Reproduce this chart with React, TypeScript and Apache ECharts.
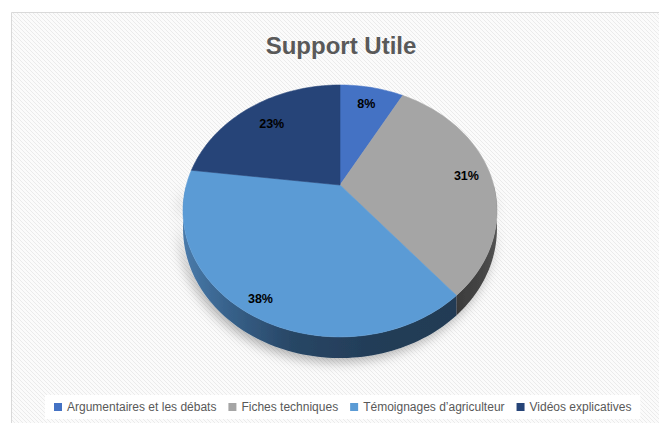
import React, { useEffect, useRef } from 'react';
import * as echarts from 'echarts';

const categories = ['Argumentaires et les débats', 'Fiches techniques', 'Témoignages d’agriculteur', 'Vidéos explicatives'];
const values = [8, 31, 38, 23];
const colors = ['#4472C4', '#A5A5A5', '#5B9BD5', '#264478'];
const sideStops = [
  [[0, '#2f5597'], [1, '#2a4c86']],
  [[0, '#3a3a3a'], [0.85, '#3a3a3a'], [0.95, '#454545'], [1, '#555555']],
  [[0, '#4a7bab'], [0.15, '#37618a'], [0.35, '#284665'], [0.6, '#233d58'], [1, '#213a52']],
  [[0, '#1c3358'], [1, '#1c3358']],
];
const labelRadius = [0.8, 0.84, 0.9, 0.75];
const chartTitle = 'Support Utile';

const W = 659;
const HGT = 423;
const CX = 340;
const CY = 185;
const RX = 153.6;
const RY = 120.6;
const K = 0.206;
const DEPTH = 16.8;

function proj(theta: number, r: number, h: number): number[] {
  const d = r * Math.sin(theta);
  const den = 1 - K * d;
  return [CX + (RX * r * Math.cos(theta)) / den, CY + (RY * d + h) / den];
}

const total = values.reduce((a, b) => a + b, 0);
const cum: number[] = [];
values.reduce((acc, v, i) => {
  cum[i] = acc;
  return acc + v;
}, 0);

function angles(idx: number, v: number) {
  const start = -Math.PI / 2 + (2 * Math.PI * cum[idx]) / total;
  const end = start + (2 * Math.PI * v) / total;
  return [start, end];
}

function makePattern(): string {
  try {
    const c = document.createElement('canvas');
    c.width = 4;
    c.height = 4;
    const ctx = c.getContext('2d');
    if (!ctx) return '';
    const img = ctx.createImageData(4, 4);
    for (let y = 0; y < 4; y++) {
      for (let x = 0; x < 4; x++) {
        const stripe = (((x - y) % 4) + 4) % 4 === 0;
        const v = stripe ? 235 : 251;
        const o = (y * 4 + x) * 4;
        img.data[o] = v;
        img.data[o + 1] = v;
        img.data[o + 2] = v;
        img.data[o + 3] = 255;
      }
    }
    ctx.putImageData(img, 0, 0);
    return c.toDataURL();
  } catch (e) {
    return '';
  }
}

export default function App() {
  const ref = useRef<HTMLDivElement>(null);
  useEffect(() => {
    if (!ref.current) return;
    const chart = echarts.init(ref.current, undefined, { renderer: 'svg' });
    const pat = makePattern();
    const bgFill: any = pat
      ? { image: pat, repeat: 'repeat', imageWidth: 4, imageHeight: 4 }
      : '#f6f6f6';

    const sideRender = (params: any, api: any) => {
      const idx = params.dataIndex;
      const v = api.value(0);
      const [s, e] = angles(idx, v);
      const a = Math.max(s, 0);
      const b = Math.min(e, Math.PI);
      if (b <= a) return { type: 'group', children: [] };
      const n = Math.max(4, Math.ceil(((b - a) / Math.PI) * 120));
      const pts: number[][] = [];
      for (let i = 0; i <= n; i++) pts.push(proj(a + ((b - a) * i) / n, 1, 0));
      for (let i = n; i >= 0; i--) pts.push(proj(a + ((b - a) * i) / n, 1, DEPTH));
      return {
        type: 'polygon',
        shape: { points: pts },
        style: {
          fill: new echarts.graphic.LinearGradient(
            CX - RX * 1.03, 0, CX + RX * 1.03, 0,
            sideStops[idx].map((st: any) => ({ offset: st[0], color: st[1] })),
            true
          ),
          shadowBlur: 12,
          shadowColor: 'rgba(0,0,0,0.3)',
          shadowOffsetX: -3,
          shadowOffsetY: 4,
        },
      };
    };

    const topRender = (params: any, api: any) => {
      const idx = params.dataIndex;
      const v = api.value(0);
      const [s, e] = angles(idx, v);
      const n = Math.max(6, Math.ceil(((e - s) / (2 * Math.PI)) * 240));
      const pts: number[][] = [[CX, CY]];
      for (let i = 0; i <= n; i++) pts.push(proj(s + ((e - s) * i) / n, 1, 0));
      const mid = (s + e) / 2;
      const lp = proj(mid, labelRadius[idx], 0);
      return {
        type: 'group',
        children: [
          {
            type: 'polygon',
            shape: { points: pts },
            style: { fill: colors[idx], stroke: colors[idx], lineWidth: 0.6 },
          },
          {
            type: 'text',
            x: lp[0],
            y: lp[1],
            z2: 10,
            style: {
              text: Math.round((v / total) * 100) + '%',
              fill: '#000000',
              font: 'bold 12.5px "Liberation Sans", Arial, sans-serif',
              align: 'center',
              verticalAlign: 'middle',
            },
          },
        ],
      };
    };

    chart.setOption({
      animation: false,
      backgroundColor: '#ffffff',
      graphic: [
        {
          type: 'rect',
          z: -10,
          silent: true,
          shape: { x: 11.5, y: 12.5, width: 700, height: 450 },
          style: { fill: bgFill, stroke: '#d9d9d9', lineWidth: 1 },
        },
        {
          type: 'text',
          x: 341,
          y: 45,
          z: 10,
          style: {
            text: chartTitle,
            fill: '#595959',
            font: 'bold 24px "Liberation Sans", Arial, sans-serif',
            align: 'center',
            verticalAlign: 'middle',
          },
        },
      ],
      legend: {
        data: categories,
        left: 45,
        top: 395,
        padding: [6, 9, 6, 9],
        backgroundColor: '#ffffff',
        icon: 'rect',
        itemWidth: 8,
        itemHeight: 8,
        itemGap: 12,
        selectedMode: false,
        textStyle: { fontFamily: 'Liberation Sans', fontSize: 12, color: '#595959' },
      },
      series: [
        {
          type: 'custom',
          name: 'sides',
          coordinateSystem: 'none',
          silent: true,
          z: 2,
          data: values.map((v) => [v]),
          renderItem: sideRender,
        },
        {
          type: 'custom',
          name: 'tops',
          coordinateSystem: 'none',
          silent: true,
          z: 3,
          data: values.map((v) => [v]),
          renderItem: topRender,
        },
        {
          type: 'pie',
          name: 'legendPie',
          radius: [0, 0],
          center: [-200, -200],
          silent: true,
          label: { show: false },
          labelLine: { show: false },
          data: categories.map((c, i) => ({ name: c, value: values[i], itemStyle: { color: colors[i] } })),
        },
      ],
    });
    return () => chart.dispose();
  }, []);
  return (
    <div
      ref={ref}
      style={{ position: 'absolute', left: 0, top: 0, width: W, height: HGT }}
    />
  );
}
